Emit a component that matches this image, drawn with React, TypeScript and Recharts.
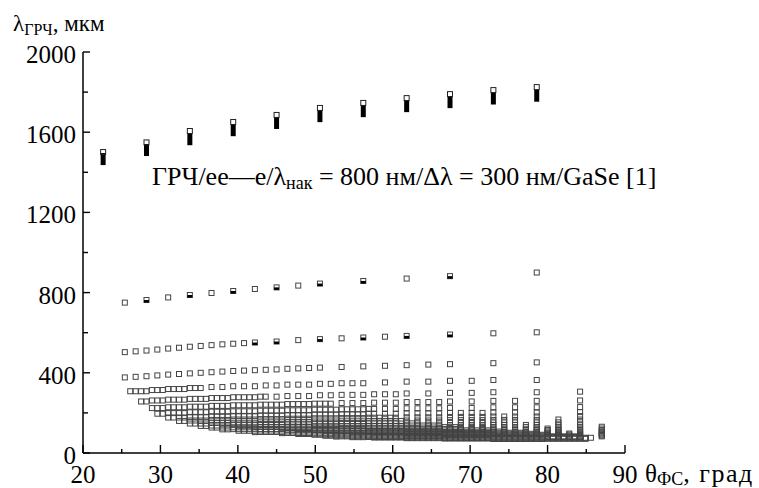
import React from 'react';
import { ScatterChart, Scatter, XAxis, YAxis } from 'recharts';

const SERIF = "'Liberation Serif', 'Times New Roman', 'DejaVu Serif', serif";
const txt = { fontFamily: SERIF };

const xTicks = [20, 25, 30, 35, 40, 45, 50, 55, 60, 65, 70, 75, 80, 85, 90];
const yTicks = [0, 200, 400, 600, 800, 1000, 1200, 1400, 1600, 1800, 2000];

// n = 1 (top row): open squares and black bars
const topX = [22.6, 28.2, 33.8, 39.4, 45.0, 50.6, 56.2, 61.8, 67.4, 73.0, 78.6];
const topOpenY = [1501, 1549, 1606, 1651, 1686, 1721, 1746, 1770, 1790, 1810, 1825];
const topBlackY = [1466, 1511, 1565, 1610, 1646, 1680, 1705, 1730, 1750, 1768, 1782];

// n = 2
const row2X = [25.4, 28.2, 31.0, 33.8, 36.6, 39.4, 42.2, 45.0, 47.8, 50.6, 56.2, 61.8, 67.4, 78.6];
const row2Y = [750, 763, 776, 788, 798, 808, 818, 826, 835, 845, 858, 870, 882, 900];

// n = 3
const row3X = [25.4, 26.8, 28.2, 29.6, 31.0, 32.4, 33.8, 35.2, 36.6, 38.0, 39.4, 40.8, 42.2, 45.0, 47.8, 50.6, 53.4, 56.2, 59.0, 61.8, 67.4, 73.0, 78.6];
const row3Y = [503, 507, 511, 516, 521, 525, 530, 534, 538, 542, 545, 548, 551, 556, 563, 568, 572, 576, 580, 584, 591, 597, 602];

// n = 4
const row4X = [25.4, 26.8, 28.2, 29.6, 31.0, 32.4, 33.8, 35.2, 36.6, 38.0, 39.4, 40.8, 42.2, 43.6, 45.0, 46.4, 47.8, 49.2, 50.6, 53.4, 56.2, 59.0, 61.8, 64.6, 67.4, 73.0, 78.6];
const row4Y = [377, 380, 383, 387, 391, 394, 397, 400, 403, 406, 409, 411, 413, 415, 417, 420, 422, 424, 426, 429, 432, 435, 438, 441, 443, 448, 452];

// half-filled (black lower part) squares in rows n = 2 and n = 3
const halfX = [28.2, 33.8, 39.4, 45.0, 50.6, 56.2, 67.4, 42.2, 45.0, 50.6, 56.2, 61.8, 67.4];
const halfY = [763, 788, 808, 826, 845, 858, 882, 551, 556, 568, 576, 584, 591];

// dense lower cloud, by column: [angle, values]
const cloudA: [number, number[]][] = [
  [26.1, [308]],
  [26.8, [308]],
  [27.5, [308, 257]],
  [28.2, [308, 257]],
  [28.9, [314, 262, 224]],
  [29.6, [314, 262, 224, 196]],
  [30.3, [314, 262, 224, 196]],
  [31.0, [319, 266, 228, 199, 177]],
  [31.7, [319, 266, 228, 199, 177]],
  [32.4, [319, 266, 228, 199, 177, 160]],
  [33.1, [319, 266, 228, 199, 177, 160]],
  [33.8, [324, 270, 231, 203, 180, 162, 147]],
  [34.5, [324, 270, 231, 203, 180, 162, 147]],
  [35.2, [324, 270, 231, 203, 180, 162, 147, 135]],
  [35.9, [270, 231, 203, 180, 162, 147, 135]],
  [36.6, [329, 274, 235, 206, 183, 165, 150, 137, 127]],
  [37.3, [274, 235, 206, 183, 165, 150, 137, 127]],
  [38.0, [329, 274, 235, 206, 183, 165, 150, 137, 127, 118]],
  [38.7, [274, 235, 206, 183, 165, 150, 137, 127, 118]],
  [39.4, [333, 278, 238, 208, 185, 167, 151, 139, 128, 119]],
  [40.1, [278, 238, 208, 185, 167, 151, 139, 128, 119, 111]],
  [40.8, [333, 278, 238, 208, 185, 167, 151, 139, 128, 119, 111]],
  [41.5, [278, 238, 208, 185, 167, 151, 139, 128, 119, 111]],
  [42.2, [333, 278, 238, 208, 185, 167, 151, 139, 128, 119, 111, 104]],
];

const cloudB: [number, number[]][] = [
  [42.9, [281, 241, 211, 187, 169, 153, 140, 130, 120, 112, 105]],
  [43.6, [337, 281, 241, 211, 187, 169, 153, 140, 130, 120, 112, 105]],
  [44.3, [241, 211, 187, 169, 153, 140, 130, 120, 112, 105]],
  [45.0, [337, 281, 241, 211, 187, 169, 153, 140, 130, 120, 112, 105]],
  [45.7, [241, 211, 187, 169, 153, 140, 130, 120, 112, 105, 99]],
  [46.4, [341, 284, 244, 213, 189, 171, 155, 142, 131, 122, 114, 107, 100]],
  [47.1, [244, 213, 189, 171, 155, 142, 131, 122, 114, 107, 100]],
  [47.8, [341, 284, 244, 213, 189, 171, 155, 142, 131, 122, 114, 107, 100, 95]],
  [48.5, [244, 213, 189, 171, 155, 142, 131, 122, 114, 107, 100, 95]],
  [49.2, [341, 284, 244, 213, 189, 171, 155, 142, 131, 122, 114, 107, 100, 95]],
  [49.9, [246, 216, 192, 173, 157, 144, 133, 123, 115, 108, 101, 96, 91]],
  [50.6, [345, 288, 246, 216, 192, 173, 157, 144, 133, 123, 115, 108, 101, 96, 91]],
  [51.3, [246, 216, 192, 173, 157, 144, 133, 123, 115, 108, 101, 96, 91, 86]],
  [52.0, [345, 288, 246, 216, 192, 173, 157, 144, 133, 123, 115, 108, 101, 96, 91, 86]],
  [52.7, [216, 192, 173, 157, 144, 133, 123, 115, 108, 101, 96, 91, 86, 82]],
  [53.4, [348, 290, 249, 218, 193, 174, 158, 145, 134, 124, 116, 109, 102, 97, 92, 87, 83]],
  [54.1, [218, 193, 174, 158, 145, 134, 124, 116, 109, 102, 97, 92, 87, 83]],
  [54.8, [348, 290, 249, 218, 193, 174, 158, 145, 134, 124, 116, 109, 102, 97, 92, 87, 83, 79]],
  [55.5, [218, 193, 174, 158, 145, 134, 124, 116, 109, 102, 97, 92, 87, 83, 79]],
  [56.2, [348, 290, 249, 218, 193, 174, 158, 145, 134, 124, 116, 109, 102, 97, 92, 87, 83, 79]],
  [56.9, [220, 196, 176, 160, 147, 135, 126, 117, 110, 104, 98, 93, 88, 84, 80]],
];

const cloudC: [number, number[]][] = [
  [57.6, [293, 251, 220, 196, 176, 160, 147, 135, 126, 117, 110, 104, 98, 93, 88, 84, 80, 77]],
  [58.3, [176, 160, 147, 135, 126, 117, 110, 104, 98, 93, 88, 84, 80, 77]],
  [59.0, [352, 293, 251, 220, 196, 176, 160, 147, 135, 126, 117, 110, 104, 98, 93, 88, 84, 80, 77]],
  [59.7, [176, 160, 147, 135, 126, 117, 110, 104, 98, 93, 88, 84, 80, 77]],
  [60.4, [293, 251, 220, 196, 176, 160, 147, 135, 126, 117, 110, 104, 98, 93, 88, 84, 80, 77]],
  [61.1, [160, 147, 135, 126, 117, 110, 104, 98, 93, 88, 84, 80, 77]],
  [61.8, [356, 297, 254, 223, 198, 178, 162, 148, 137, 127, 119, 111, 105, 99, 94, 89, 85, 81, 77, 74]],
  [62.5, [148, 137, 127, 119, 111, 105, 99, 94, 89, 85, 81, 77, 74]],
  [63.2, [254, 223, 198, 178, 162, 148, 137, 127, 119, 111, 105, 99, 94, 89, 85, 81, 77, 74]],
  [63.9, [137, 127, 119, 111, 105, 99, 94, 89, 85, 81, 77, 74]],
  [64.6, [356, 297, 254, 223, 198, 178, 162, 148, 137, 127, 119, 111, 105, 99, 94, 89, 85, 81, 77, 74]],
  [65.3, [137, 127, 119, 111, 105, 99, 94, 89, 85, 81, 77, 74]],
  [66.0, [254, 223, 198, 178, 162, 148, 137, 127, 119, 111, 105, 99, 94, 89, 85, 81, 77, 74]],
  [66.7, [129, 120, 113, 106, 100, 95, 90, 86, 82, 78, 75, 72]],
  [67.4, [360, 300, 257, 225, 200, 180, 164, 150, 138, 129, 120, 113, 106, 100, 95, 90, 86, 82, 78, 75, 72]],
  [68.1, [129, 120, 113, 106, 100, 95, 90, 86, 82, 78, 75, 72]],
  [68.8, [200, 180, 164, 150, 138, 129, 120, 113, 106, 100, 95, 90, 86, 82, 78, 75, 72]],
  [69.5, [113, 106, 100, 95, 90, 86, 82, 78, 75, 72]],
  [70.2, [360, 300, 257, 225, 200, 180, 164, 150, 138, 129, 120, 113, 106, 100, 95, 90, 86, 82, 78, 75, 72]],
];

const cloudD: [number, number[]][] = [
  [70.9, [113, 106, 100, 95, 90, 86, 82, 78, 75, 72]],
  [71.6, [200, 180, 164, 150, 138, 129, 120, 113, 106, 100, 95, 90, 86, 82, 78, 75, 72]],
  [72.3, [113, 106, 100, 95, 90, 86, 82, 78, 75, 72]],
  [73.0, [364, 303, 260, 228, 202, 182, 165, 152, 140, 130, 121, 114, 107, 101, 96, 91, 87, 83, 79, 76, 73, 70]],
  [73.7, [107, 101, 96, 91, 87, 83, 79, 76, 73, 70]],
  [74.4, [182, 165, 152, 140, 130, 121, 114, 107, 101, 96, 91, 87, 83, 79, 76, 73, 70]],
  [75.1, [101, 96, 91, 87, 83, 79, 76, 73, 70]],
  [75.8, [260, 228, 202, 182, 165, 152, 140, 130, 121, 114, 107, 101, 96, 91, 87, 83, 79, 76, 73, 70]],
  [76.5, [101, 96, 91, 87, 83, 79, 76, 73, 70]],
  [77.2, [140, 130, 121, 114, 107, 101, 96, 91, 87, 83, 79, 76, 73, 70]],
  [77.9, [96, 91, 87, 83, 79, 76, 73, 70]],
  [78.6, [364, 303, 260, 228, 202, 182, 165, 152, 140, 130, 121, 114, 107, 101, 96, 91, 87, 83, 79, 76, 73, 70]],
  [79.3, [91, 87, 83, 79, 76, 73, 70]],
  [80.0, [122, 115, 108, 102, 97, 92, 87, 83, 80, 76, 73, 71]],
  [80.7, [83, 80, 76, 73, 71]],
  [81.4, [167, 153, 141, 131, 122, 115, 108, 102, 97, 92, 87, 83, 80, 76, 73, 71]],
  [82.1, [83, 80, 76, 73, 71]],
  [82.8, [97, 92, 87, 83, 80, 76, 73, 71]],
  [83.5, [83, 80, 76, 73, 71]],
  [84.2, [306, 262, 229, 204, 184, 167, 153, 141, 131, 122, 115, 108, 102, 97, 92, 87, 83, 80, 76, 73, 71]],
  [84.9, [76, 73, 71]],
  [85.6, [76]],
  [87.0, [131, 122, 115, 108, 102, 97, 92, 87, 83]],
];

const toPts = (xs: number[], ys: number[]) => xs.map((x, i) => ({ x, y: ys[i] }));
const colPts = (cols: [number, number[]][]) =>
  cols.flatMap(([x, vs]) => vs.map((y) => ({ x, y })));

const topOpenData = toPts(topX, topOpenY);
const topBlackData = toPts(topX, topBlackY);
const row2Data = toPts(row2X, row2Y);
const row3Data = toPts(row3X, row3Y);
const row4Data = toPts(row4X, row4Y);
const halfData = toPts(halfX, halfY);
const cloudData = [...colPts(cloudA), ...colPts(cloudB), ...colPts(cloudC), ...colPts(cloudD)];

const OpenSq = (p: any) =>
  p.cx == null ? <g /> : (
    <rect x={p.cx - 2.5} y={p.cy - 2.5} width={5} height={5} fill="none" stroke="#444" strokeWidth={1} />
  );
const OpenSqDark = (p: any) =>
  p.cx == null ? <g /> : (
    <rect x={p.cx - 2.5} y={p.cy - 2.5} width={5} height={5} fill="none" stroke="#222" strokeWidth={1} />
  );
const BlackBar = (p: any) =>
  p.cx == null ? <g /> : <rect x={p.cx - 2.5} y={p.cy - 6} width={5} height={12} fill="#000" />;
const HalfBlack = (p: any) =>
  p.cx == null ? <g /> : <rect x={p.cx - 2.5} y={p.cy} width={5} height={2.5} fill="#000" />;

const XTick = (p: any) => {
  const v = p.payload.value;
  const major = v % 10 === 0;
  return (
    <g>
      <line x1={p.x} x2={p.x} y1={p.y} y2={p.y - (major ? 8 : 4)} stroke="#000" strokeWidth={1.4} />
      {major && (
        <text x={p.x} y={p.y + 30} textAnchor="middle" fontSize={25} style={txt} fill="#000">
          {v}
        </text>
      )}
    </g>
  );
};

const YTick = (p: any) => {
  const v = p.payload.value;
  const major = v % 400 === 0;
  return (
    <g>
      <line x1={p.x} x2={p.x + (major ? 7 : 5)} y1={p.y} y2={p.y} stroke="#000" strokeWidth={1.4} />
      {major && (
        <text x={p.x - 7} y={p.y + 11} textAnchor="end" fontSize={25} style={txt} fill="#000">
          {v}
        </text>
      )}
    </g>
  );
};

export default function App() {
  return (
    <div style={{ position: 'relative', width: 759, height: 488, background: '#fff' }}>
      <style>{'body{margin:0}'}</style>
      <ScatterChart width={759} height={488} margin={{ top: 52, right: 134, bottom: 0, left: 23 }}>
        <XAxis
          type="number"
          dataKey="x"
          domain={[20, 90]}
          ticks={xTicks}
          interval={0}
          height={35}
          tickSize={0}
          tickMargin={0}
          tickLine={false}
          tick={XTick}
          axisLine={{ stroke: '#000', strokeWidth: 1.5 }}
        />
        <YAxis
          type="number"
          dataKey="y"
          domain={[0, 2000]}
          ticks={yTicks}
          interval={0}
          width={60}
          tickSize={0}
          tickMargin={0}
          tickLine={false}
          tick={YTick}
          axisLine={{ stroke: '#000', strokeWidth: 1.5 }}
        />
        <Scatter data={cloudData} shape={OpenSq} isAnimationActive={false} />
        <Scatter data={row4Data} shape={OpenSq} isAnimationActive={false} />
        <Scatter data={row3Data} shape={OpenSq} isAnimationActive={false} />
        <Scatter data={row2Data} shape={OpenSq} isAnimationActive={false} />
        <Scatter data={halfData} shape={HalfBlack} isAnimationActive={false} />
        <Scatter data={topBlackData} shape={BlackBar} isAnimationActive={false} />
        <Scatter data={topOpenData} shape={OpenSqDark} isAnimationActive={false} />
      </ScatterChart>
      <svg
        width={759}
        height={488}
        style={{ position: 'absolute', left: 0, top: 0, pointerEvents: 'none', fontFamily: SERIF }}
      >
        <text x={13} y={31} fontSize={23} style={txt} fill="#000">
          λ<tspan fontSize={16} dy={4}>ГРЧ</tspan>
          <tspan dy={-4}>, мкм</tspan>
        </text>
        <text x={645} y={482} fontSize={25} style={txt} fill="#000">
          θ<tspan fontSize={18} dy={3}>ФС</tspan>
          <tspan dy={-3} fontSize={26} letterSpacing={1.5}>, град</tspan>
        </text>
        <text x={152} y={185} fontSize={26} style={txt} fill="#000">
          ГРЧ/ee—e/λ<tspan fontSize={18} dy={4}>нак</tspan>
          <tspan dy={-4}> = 800 нм/Δλ = 300 нм/GaSe [1]</tspan>
        </text>
      </svg>
    </div>
  );
}
